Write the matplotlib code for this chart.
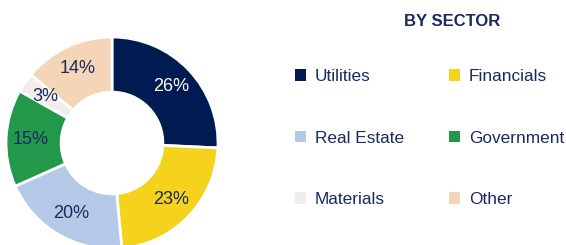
import matplotlib.pyplot as plt
from matplotlib.patches import Patch

plt.rcParams['font.family'] = ['Liberation Sans', 'DejaVu Sans']

# sector split (%)
sectors = ['Utilities', 'Financials', 'Real Estate', 'Government', 'Materials', 'Other']
shares = [26, 23, 20, 15, 3, 14]
colors = ['#001A52', '#F5D31C', '#B4C8E8', '#22994A', '#F2EDEA', '#F5D5B8']
label_colors = ['white', '#1B2A5E', '#1B2A5E', '#1B2A5E', '#1B2A5E', '#1B2A5E']
navy = '#1B2A5E'

fig = plt.figure(figsize=(5.66, 2.45), dpi=100)
ax = fig.add_axes([6 / 566, -4 / 245, 212 / 566, 212 / 245])

wedges, texts = ax.pie(shares, colors=colors, startangle=90, counterclock=False,
                       labels=[f'{s}%' for s in shares], labeldistance=0.77,
                       wedgeprops=dict(width=0.52, edgecolor='white', linewidth=2))
for t, c in zip(texts, label_colors):
    t.set_ha('center')
    t.set_va('center')
    t.set_color(c)
    t.set_fontsize(13)
ax.set_xlim(-1, 1)
ax.set_ylim(-1, 1)
ax.set_aspect('equal')
ax.axis('off')

fig.text(452 / 566, 1 - 22 / 245, 'BY SECTOR', ha='center', va='center',
         fontsize=12, fontweight='bold', color=navy)

# two columns, filled row by row
order = [0, 2, 4, 1, 3, 5]
handles = [Patch(facecolor=colors[i], edgecolor='none') for i in order]
labels = [sectors[i] for i in order]
leg = fig.legend(handles, labels, ncol=2, loc='upper left',
                 bbox_to_anchor=(295 / 566, 1 - 69 / 245), frameon=False,
                 fontsize=12.4, handlelength=0.65, handleheight=0.65,
                 handletextpad=0.5, labelspacing=2.7, columnspacing=2.62,
                 borderpad=0, borderaxespad=0)
for t in leg.get_texts():
    t.set_color(navy)

fig.savefig('out.png', dpi=100)
